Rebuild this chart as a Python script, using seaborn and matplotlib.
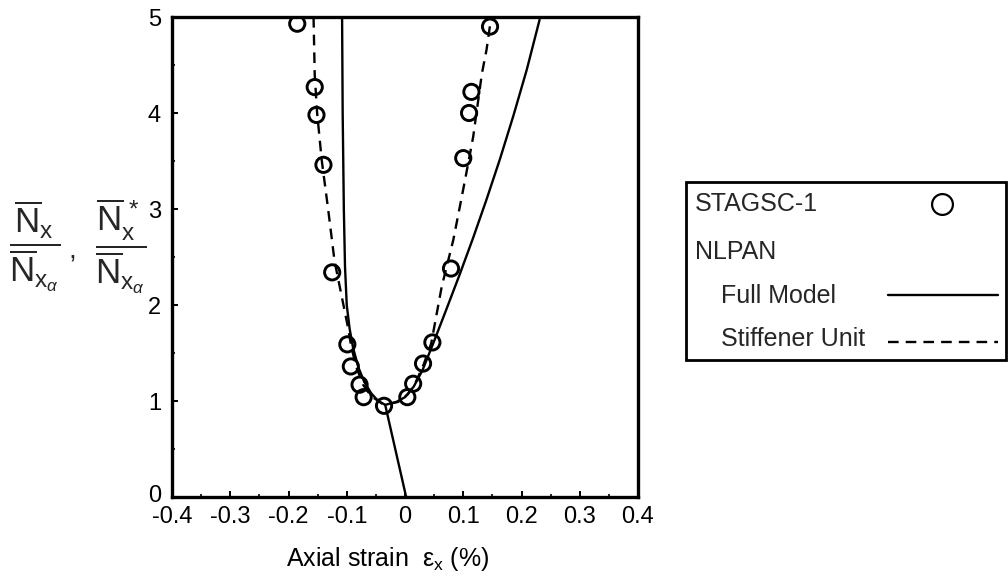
import matplotlib
matplotlib.use("Agg")
import matplotlib.pyplot as plt
import seaborn as sns
from matplotlib.lines import Line2D
from matplotlib.patches import Rectangle
from matplotlib.ticker import FixedLocator, FixedFormatter, MultipleLocator
from matplotlib.transforms import ScaledTranslation

# ---------------- data ----------------
stagsc_x = [-0.185, -0.155, -0.152, -0.140, -0.125, -0.099, -0.093, -0.078, -0.071,
            -0.036, 0.004, 0.014, 0.031, 0.047, 0.079, 0.100, 0.110, 0.114, 0.146]
stagsc_y = [4.93, 4.27, 3.98, 3.46, 2.34, 1.59, 1.36, 1.17, 1.04,
            0.95, 1.04, 1.18, 1.39, 1.61, 2.38, 3.53, 4.00, 4.22, 4.90]

stiff_x = [-0.157, -0.155, -0.151, -0.143, -0.132, -0.121, -0.108, -0.099, -0.092,
           -0.084, -0.072, -0.058, -0.036, -0.012, 0.005, 0.018, 0.032, 0.045,
           0.063, 0.083, 0.094, 0.103, 0.117, 0.132, 0.140, 0.148]
stiff_y = [5.00, 4.40, 4.01, 3.51, 3.00, 2.46, 2.07, 1.80, 1.56,
           1.36, 1.17, 1.05, 0.96, 0.99, 1.07, 1.19, 1.38, 1.60,
           2.19, 2.68, 3.02, 3.30, 3.75, 4.41, 4.66, 5.00]

full_left_x = [-0.108, -0.107, -0.105, -0.103, -0.100, -0.095, -0.089, -0.080,
               -0.070, -0.058, -0.046, -0.034, 0.002]
full_left_y = [5.00, 4.00, 3.00, 2.40, 2.00, 1.75, 1.55, 1.35,
               1.20, 1.08, 1.00, 0.96, 0.00]

full_right_x = [-0.034, -0.015, 0.000, 0.015, 0.030, 0.051, 0.072, 0.094, 0.117,
                0.140, 0.163, 0.186, 0.209, 0.231]
full_right_y = [0.96, 0.99, 1.04, 1.15, 1.32, 1.64, 1.97, 2.32, 2.70,
                3.10, 3.52, 3.97, 4.45, 4.97]

xtick_values = [-0.4, -0.3, -0.2, -0.1, 0.0, 0.1, 0.2, 0.3, 0.4]
xtick_labels = ['-0.4', '-0.3', '-0.2', '-0.1', '0', '0.1', '0.2', '0.3', '0.4']
ytick_values = [0, 1, 2, 3, 4, 5]
ytick_labels = ['0', '1', '2', '3', '4', '5']
legend_labels = ['STAGSC-1', 'NLPAN', 'Full Model', 'Stiffener Unit']

# ---------------- style ----------------
sns.set_theme(style="ticks")
plt.rcParams['font.family'] = ['Liberation Sans', 'DejaVu Sans']
plt.rcParams['mathtext.fontset'] = 'custom'
plt.rcParams['mathtext.rm'] = 'Liberation Sans'
plt.rcParams['mathtext.it'] = 'Liberation Sans:italic'
plt.rcParams['mathtext.bf'] = 'Liberation Sans:bold'
plt.rcParams['mathtext.sf'] = 'Liberation Sans'
plt.rcParams['axes.unicode_minus'] = False

W, H = 1008, 585
fig = plt.figure(figsize=(W / 100, H / 100), dpi=100)
fig.patch.set_facecolor('white')
ax = fig.add_axes([172 / W, 1 - 497 / H, 466 / W, 480 / H])
ax.set_facecolor('white')

LW = 1.7
DASH = (0, (4.5, 3.0))

sns.lineplot(x=full_left_x, y=full_left_y, sort=False, estimator=None,
             color='black', lw=LW, ax=ax)
sns.lineplot(x=full_right_x, y=full_right_y, sort=False, estimator=None,
             color='black', lw=LW, ax=ax)
sns.lineplot(x=stiff_x, y=stiff_y, sort=False, estimator=None,
             color='black', lw=LW, linestyle=DASH, ax=ax)
sns.scatterplot(x=stagsc_x, y=stagsc_y, marker='o', s=120, color='black',
                linewidth=2.1, ax=ax, zorder=5)
ax.collections[-1].set_facecolor('none')
ax.collections[-1].set_edgecolor('black')

ax.set_xlim(-0.4, 0.4)
ax.set_ylim(0, 5)
ax.xaxis.set_major_locator(FixedLocator(xtick_values))
ax.xaxis.set_major_formatter(FixedFormatter(xtick_labels))
ax.yaxis.set_major_locator(FixedLocator(ytick_values))
ax.yaxis.set_major_formatter(FixedFormatter(ytick_labels))
ax.xaxis.set_minor_locator(MultipleLocator(0.05))
ax.yaxis.set_minor_locator(MultipleLocator(0.5))

for s in ax.spines.values():
    s.set_visible(True)
    s.set_linewidth(2.4)
    s.set_color('black')

ax.tick_params(which='major', direction='in', length=4.5, width=1.4,
               labelsize=17, colors='black')
ax.tick_params(which='minor', direction='in', length=2.2, width=1.2, colors='black')
ax.tick_params(axis='x', which='major', pad=6.5)
ax.tick_params(axis='y', which='major', pad=8.0)
ax.grid(False)

# lift the y "0" label a few pixels (as in the reference it sits just above "-0.4")
tick0 = ax.yaxis.get_major_ticks()[0]
tick0.label1.set_transform(tick0.label1.get_transform()
                           + ScaledTranslation(0, 4 / 100, fig.dpi_scale_trans))

ax.set_xlabel(r'Axial strain  $\mathrm{\varepsilon_x}$ (%)', fontsize=18, color='black')
ax.xaxis.set_label_coords((388 - 172) / 466, -0.100)
ax.set_ylabel('')

# y-axis label: two fractions
frac1 = r'$\dfrac{\overline{\mathrm{N}}_{\mathrm{x}}}{\overline{\mathrm{N}}_{\mathrm{x}_{\alpha}}}$'
frac2 = r'$\dfrac{\overline{\mathrm{N}}_{\mathrm{x}}^{\,*}}{\overline{\mathrm{N}}_{\mathrm{x}_{\alpha}}}$'
fig.text(9 / W, 1 - 246 / H, frac1, fontsize=25, ha='left', va='center')
fig.text(68 / W, 1 - 252 / H, ',', fontsize=20, ha='left', va='center')
fig.text(95 / W, 1 - 246 / H, frac2, fontsize=25, ha='left', va='center')

# ---------------- legend box ----------------
fig.add_artist(Rectangle((686 / W, 1 - 360 / H), 320 / W, 178 / H,
                         transform=fig.transFigure, fill=False,
                         ec='black', lw=2.0))
fig.text(695 / W, 1 - 204 / H, legend_labels[0], fontsize=18, ha='left', va='center')
fig.text(695 / W, 1 - 252 / H, legend_labels[1], fontsize=18, ha='left', va='center')
fig.text(721 / W, 1 - 296 / H, legend_labels[2], fontsize=18, ha='left', va='center')
fig.text(721 / W, 1 - 339 / H, legend_labels[3], fontsize=18, ha='left', va='center')
fig.add_artist(Line2D([942 / W], [1 - 204 / H], marker='o', ms=15, mfc='none',
                      mec='black', mew=1.6, ls='none', transform=fig.transFigure))
fig.add_artist(Line2D([888 / W, 998 / W], [1 - 295 / H, 1 - 295 / H],
                      color='black', lw=LW, transform=fig.transFigure))
fig.add_artist(Line2D([888 / W, 998 / W], [1 - 342 / H, 1 - 342 / H],
                      color='black', lw=LW, ls=DASH, transform=fig.transFigure))

fig.savefig('out.png', dpi=100, facecolor='white')
